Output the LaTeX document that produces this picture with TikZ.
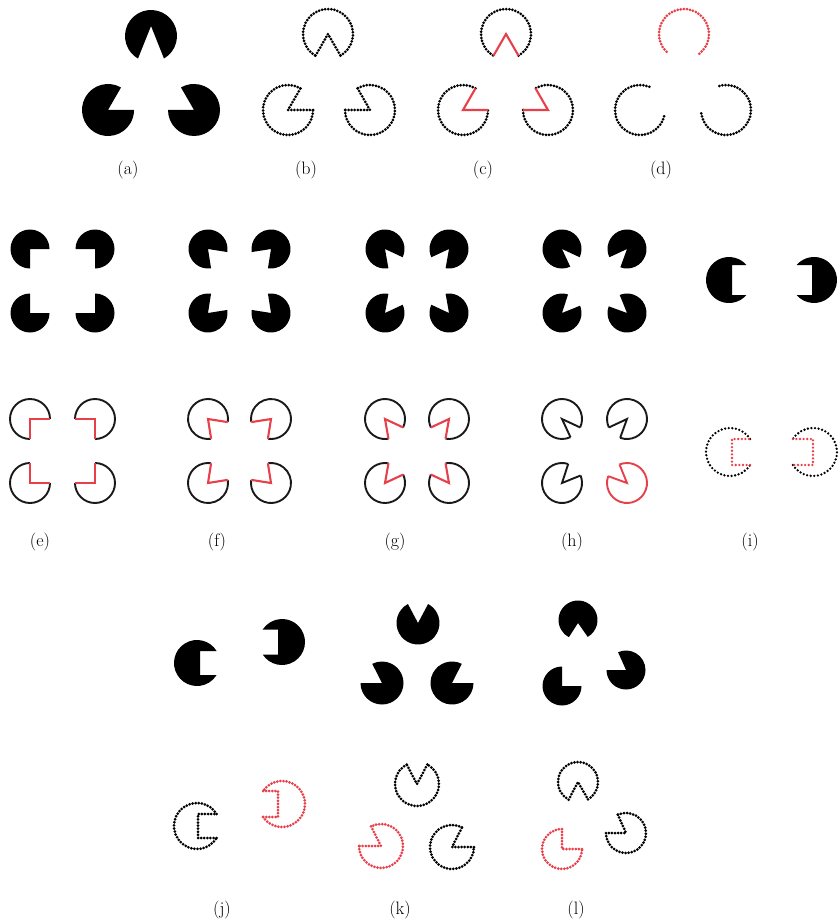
\documentclass[tikz,border=0pt]{standalone}
\usepackage{fontspec}
\usepackage{xcolor}
\usepackage{tikz}
\usetikzlibrary{calc}

\definecolor{pacred}{RGB}{232,64,74}

% filled inducer: centre, radius, mouth from, mouth to, apex
\newcommand{\pacfill}[5]{%
  \fill ($(#1)+(#4:#2)$) arc[start angle=#4, end angle={#3+360}, radius=#2] -- (#5) -- cycle;}
% outlined inducer: rim style, jaw style, centre, radius, mouth from, mouth to
\newcommand{\pacline}[6]{%
  \draw[#1] ($(#3)+(#6:#4)$) arc[start angle=#6, end angle={#5+360}, radius=#4];
  \draw[#2] ($(#3)+(#5:#4)$) -- (#3) -- ($(#3)+(#6:#4)$);}
% rim only: style, centre, radius, mouth from, mouth to
\newcommand{\pacrim}[5]{%
  \draw[#1] ($(#2)+(#5:#3)$) arc[start angle=#5, end angle={#4+360}, radius=#3];}
% square notch: centre, radius, facing, half gap, depth
\newcommand{\notchfill}[5]{%
  \begin{scope}[shift={(#1)}, rotate=#3]
    \fill ({asin(#4/#2)}:#2) arc[start angle={asin(#4/#2)}, end angle={360-asin(#4/#2)}, radius=#2]
      -- (#5,-#4) -- (#5,#4) -- cycle;
  \end{scope}}
% square notch outline: rim style, gap style, centre, radius, facing, half gap, depth
\newcommand{\notchline}[7]{%
  \begin{scope}[shift={(#3)}, rotate=#5]
    \draw[#1] ({asin(#6/#4)}:#4) arc[start angle={asin(#6/#4)}, end angle={360-asin(#6/#4)}, radius=#4];
    \draw[#2] ({-asin(#6/#4)}:#4) -- (#7,-#6) -- (#7,#6) -- ({asin(#6/#4)}:#4);
  \end{scope}}

\begin{document}
\begin{tikzpicture}[x=1pt, y=1pt,
    bead/.style={line width=3pt, line cap=round, dash pattern=on 0pt off 3.1pt, black},
    sparse/.style={line width=2.6pt, dash pattern=on 0pt off 3.6pt},
    rim/.style={line width=1.9pt, black!90},
    jaw/.style={line width=2.1pt, pacred},
    lab/.style={font=\fontsize{18}{21}\selectfont, text=black, inner sep=0pt}
]
\useasboundingbox (0,0) rectangle (839,-923);

% (a) - (d)
\pacfill{151,-36}{26}{-120}{-60}{151,-26}
\pacfill{108,-110}{26}{0}{60}{108,-110}
\pacfill{194,-110}{26}{120}{180}{194,-110}

\pacline{bead}{bead}{328,-34}{25}{-120}{-60}
\pacline{bead}{bead}{288,-110}{25}{0}{60}
\pacline{bead}{bead}{370,-110}{25}{120}{180}

\pacline{bead}{jaw}{506,-34}{25}{-120}{-60}
\pacline{bead}{jaw}{463,-110}{25}{0}{60}
\pacline{bead}{jaw}{548,-110}{25}{120}{180}

\pacrim{bead,pacred}{684,-34}{25}{-128}{-52}
\pacrim{bead}{640,-110}{25}{-8}{68}
\pacrim{bead}{726,-110}{25}{112}{188}

\node[lab] (la) at (128,-170) {(a)};
\node[lab] (lb) at (306,-170) {(b)};
\node[lab] (lc) at (483,-170) {(c)};
\node[lab] (ld) at (661,-170) {(d)};

% (e) - (h), filled
\pacfill{30,-249}{19.5}{-90}{0}{30,-249}
\pacfill{95,-249}{19.5}{180}{270}{95,-249}
\pacfill{30,-313}{19.5}{0}{90}{30,-313}
\pacfill{95,-313}{19.5}{90}{180}{95,-313}

\pacfill{208,-249}{19.5}{-81}{-9}{208,-249}
\pacfill{271,-249}{19.5}{189}{261}{271,-249}
\pacfill{208,-313}{19.5}{9}{81}{208,-313}
\pacfill{271,-313}{19.5}{99}{171}{271,-313}

\pacfill{385,-249}{19.5}{-80}{-25}{385,-249}
\pacfill{449,-249}{19.5}{205}{260}{449,-249}
\pacfill{385,-313}{19.5}{25}{80}{385,-313}
\pacfill{449,-313}{19.5}{100}{155}{449,-313}

\pacfill{562,-249}{19.5}{-65}{-25}{562,-249}
\pacfill{627,-249}{19.5}{205}{250}{627,-249}
\pacfill{562,-313}{19.5}{22}{72}{562,-313}
\pacfill{627,-313}{19.5}{112}{160}{627,-313}

% (e) - (h), outlines
\pacline{rim}{jaw}{30,-419}{20}{-90}{0}
\pacline{rim}{jaw}{95,-419}{20}{180}{270}
\pacline{rim}{jaw}{30,-483}{20}{0}{90}
\pacline{rim}{jaw}{95,-483}{20}{90}{180}

\pacline{rim}{jaw}{208,-419}{20}{-81}{-9}
\pacline{rim}{jaw}{271,-419}{20}{189}{261}
\pacline{rim}{jaw}{208,-483}{20}{9}{81}
\pacline{rim}{jaw}{271,-483}{20}{99}{171}

\pacline{rim}{jaw}{385,-419}{20}{-80}{-25}
\pacline{rim}{jaw}{449,-419}{20}{205}{260}
\pacline{rim}{jaw}{385,-483}{20}{25}{80}
\pacline{rim}{jaw}{449,-483}{20}{100}{155}

\pacline{rim}{rim}{562,-419}{20}{-65}{-25}
\pacline{rim}{rim}{627,-419}{20}{205}{250}
\pacline{rim}{rim}{562,-483}{20}{22}{72}
\pacline{rim,pacred}{rim,pacred}{627,-483}{20}{112}{160}

% (i)
\notchfill{729,-280}{23}{0}{15}{3}
\notchfill{814,-280}{23}{180}{15}{2}
\notchline{bead,sparse}{bead,sparse,pacred}{730,-452}{24}{0}{13}{2}
\notchline{bead,sparse}{bead,sparse,pacred}{813,-452}{24}{180}{13}{0}

\node[lab] (le) at (40,-542) {(e)};
\node[lab] (lf) at (217,-542) {(f)};
\node[lab] (lg) at (395,-542) {(g)};
\node[lab] (lh) at (572,-542) {(h)};
\node[lab] (li) at (750,-542) {(i)};

% (j)
\notchfill{197,-663}{23}{0}{12}{3}
\notchfill{282,-642}{23}{180}{12.5}{4}
\notchline{bead}{bead}{197,-826}{23}{0}{12}{1}
\notchline{bead,pacred}{bead,pacred}{282,-804}{23}{180}{13}{4}

% (k)
\pacfill{418,-623}{21.5}{62}{118}{418,-623}
\pacfill{382,-683}{21.5}{117}{180}{382,-683}
\pacfill{452,-683}{21.5}{0}{63}{452,-683}
\pacline{bead}{bead}{417,-784}{22}{62}{118}
\pacline{bead,pacred}{bead,pacred}{381,-846}{22}{117}{180}
\pacline{bead}{bead}{452,-847}{22}{0}{63}

% (l)
\pacfill{578,-620}{19.5}{-118}{-60}{578,-623}
\pacfill{562,-686}{19.5}{0}{90}{562,-686}
\pacfill{626,-670}{19.5}{114}{180}{626,-670}
\pacline{bead}{bead}{578,-782}{20}{-118}{-60}
\pacline{bead,pacred}{bead,pacred}{562,-849}{20}{0}{90}
\pacline{bead}{bead}{626,-833}{20}{114}{180}

\node[lab] (lj) at (222,-910) {(j)};
\node[lab] (lk) at (400,-910) {(k)};
\node[lab] (ll) at (576,-910) {(l)};
\end{tikzpicture}
\end{document}
